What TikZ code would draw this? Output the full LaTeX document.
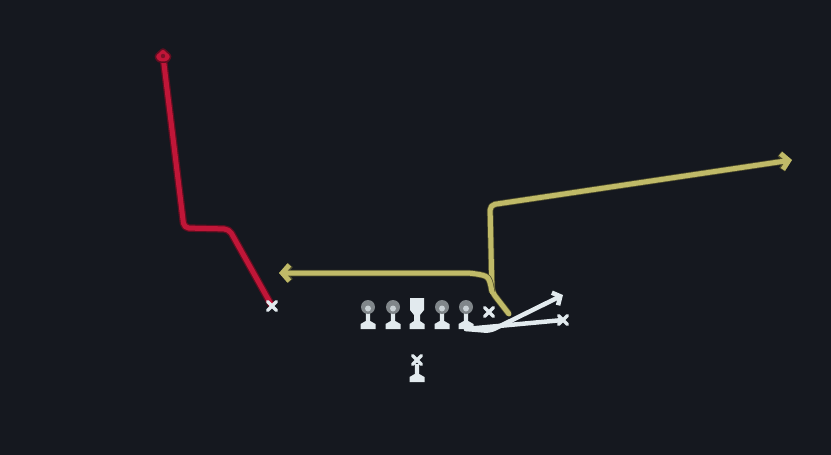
\documentclass[tikz,border=0pt]{standalone}
\usetikzlibrary{arrows.meta}
\definecolor{field}{RGB}{21,24,31}
\definecolor{routered}{RGB}{192,22,56}
\definecolor{reddark}{RGB}{95,14,32}
\definecolor{routeyellow}{RGB}{192,186,104}
\definecolor{yellowdark}{RGB}{80,78,44}
\definecolor{chalk}{RGB}{226,234,238}
\definecolor{helmet}{RGB}{128,134,138}
\tikzset{
  xmark/.pic={\draw[chalk,line width=3.5pt,line cap=round] (-4.5,-4.5) -- (4.5,4.5) (-4.5,4.5) -- (4.5,-4.5);},
  stand/.pic={\fill[chalk] (-2.2,4) -- (-2.2,14) -- (-7.5,17) -- (-7.5,22) -- (7.5,22) -- (7.5,17) -- (2.2,14) -- (2.2,4) -- cycle;},
  lineman/.pic={
    \pic {stand};
    \fill[helmet] (0,0) circle (7);
    \fill[chalk!75!helmet] (0,1.5) circle (3);
  },
  snapper/.pic={\fill[chalk] (-7,-9) -- (7,-9) -- (7,3) -- (3,8) -- (3,14) -- (7.5,17) -- (7.5,22) -- (-7.5,22) -- (-7.5,17) -- (-3,14) -- (-3,8) -- (-7,3) -- cycle;},
  qb/.pic={\pic {xmark}; \pic {stand};},
  redtip/.pic={
    \filldraw[routered,draw=reddark,line width=1.5pt,rounded corners=2.5pt] (0,-8) -- (8.5,0) -- (5,6) -- (-5,6) -- (-8.5,0) -- cycle;
    \fill[reddark!70!routered] (0,0) circle (2.2);
  }
}
\begin{document}
\begin{tikzpicture}[x=1pt,y=-1pt,line join=round,
  route/.style={line width=5pt,line cap=round,rounded corners=5pt},
  redroute/.style={route,routered,preaction={draw=reddark,line width=7.5pt}},
  yellowroute/.style={route,routeyellow,preaction={draw=yellowdark,line width=6.5pt}},
  whiteroute/.style={route,chalk,line width=4.5pt},
  barb/.style={-{Straight Barb[length=7pt,width=16pt]}}]
  \fill[field] (0,0) rectangle (831,455);
  % offense
  \foreach \px/\nm in {368/lt,393/lg,442/rg,466/rt}
    \pic (\nm) at (\px,307) {lineman};
  \pic (c) at (417,307) {snapper};
  \pic (qb) at (417,360) {qb};
  \coordinate (te) at (489,312);
  \coordinate (wr) at (272,306);
  % red route
  \coordinate (r1) at (229,229);
  \coordinate (r2) at (184,228);
  \coordinate (r3) at (163,56);
  \draw[redroute] (wr) -- (r1) -- (r2) -- (r3);
  \pic at (r3) {redtip};
  % yellow routes
  \coordinate (y0) at (509,314);
  \coordinate (ysplit) at (492,292);
  \coordinate (y1) at (490,205);
  \coordinate (y2) at (792,160);
  \coordinate (y3) at (470,273);
  \coordinate (y4) at (279,273);
  \draw[yellowroute,barb] (y0) -- (ysplit) -- (y1) -- (y2);
  \draw[yellowroute,barb] (ysplit) .. controls (489,276) .. (y3) -- (y4);
  % white routes
  \coordinate (w0) at (466,329);
  \coordinate (w1) at (490,331);
  \coordinate (w2) at (563,295);
  \coordinate (w3) at (563,320);
  \draw[whiteroute,-{Straight Barb[length=6pt,width=14pt]}] (w0) -- (w1) -- (w2);
  \draw[whiteroute] (w0) -- (w3);
  \pic at (w3) {xmark};
  \pic at (te) {xmark};
  \pic at (wr) {xmark};
\end{tikzpicture}
\end{document}
